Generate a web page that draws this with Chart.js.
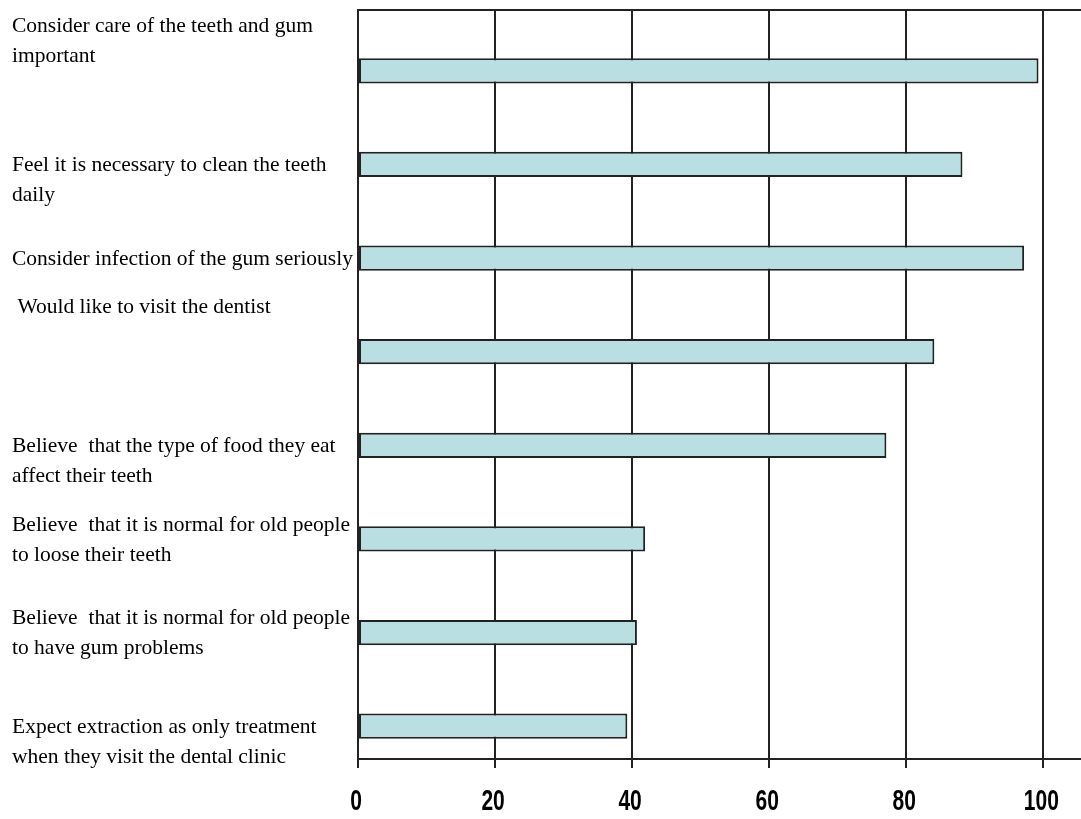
<!DOCTYPE html>
<html>
<head>
<meta charset="utf-8">
<script src="https://cdn.jsdelivr.net/npm/chart.js@4.4.1/dist/chart.umd.min.js"></script>
<style>
  html, body { margin: 0; padding: 0; background: #fff; }
  canvas { display: block; }
</style>
</head>
<body>
<canvas id="myChart" width="1081" height="819"></canvas>
<script>
var categories = [
  ["Consider care of the teeth and gum", "important"],
  ["Feel it is necessary to clean the teeth", "daily"],
  ["Consider infection of the gum seriously"],
  [" Would like to visit the dentist"],
  ["Believe  that the type of food they eat", "affect their teeth"],
  ["Believe  that it is normal for old people", "to loose their teeth"],
  ["Believe  that it is normal for old people", "to have gum problems"],
  ["Expect extraction as only treatment", "when they visit the dental clinic"]
];
var percentValues = [99.3, 88.2, 97.2, 84.1, 77.1, 41.9, 40.7, 39.3];
var xTicks = [0, 20, 40, 60, 80, 100];

// labels in the picture sit a bit above or below their bar, counted in lines
var labelShift = [-1, 2, 1, -2, 2, 1, 1, 2];

function padLabel(lines, shift) {
  var out = lines.slice();
  for (var i = 0; i < Math.abs(shift); i++) {
    if (shift > 0) out.unshift(""); else out.push("");
  }
  return out;
}

// x tick labels are tall narrow bold digits, so draw them squeezed
var narrowTicks = {
  id: "narrowTicks",
  afterDraw: function (chart) {
    var ctx = chart.ctx;
    var xs = chart.scales.x;
    ctx.save();
    ctx.fillStyle = "#000";
    ctx.font = "bold 30px 'Liberation Sans', Arial, sans-serif";
    ctx.textAlign = "center";
    ctx.textBaseline = "middle";
    xs.ticks.forEach(function (t) {
      var px = xs.getPixelForValue(t.value);
      ctx.save();
      ctx.translate(px - 2, 802);
      ctx.scale(0.7, 1);
      ctx.fillText(String(t.value), 0, 0);
      ctx.restore();
    });
    ctx.restore();
  }
};

new Chart("myChart", {
  type: "bar",
  data: {
    labels: categories.map(function (c, i) { return padLabel(c, labelShift[i]); }),
    datasets: [
      { data: categories.map(function () { return null; }), backgroundColor: "rgba(0,0,0,0)" },
      {
        data: percentValues,
        backgroundColor: "#B9DFE2",
        borderColor: "#222",
        borderWidth: 2,
        borderSkipped: false
      }
    ]
  },
  options: {
    indexAxis: "y",
    responsive: false,
    animation: false,
    devicePixelRatio: 1,
    categoryPercentage: 0.6,
    barPercentage: 0.9,
    layout: { padding: { left: 12, top: 10, right: 0, bottom: 0 } },
    plugins: { legend: { display: false }, tooltip: { enabled: false } },
    scales: {
      y: {
        grid: { display: false },
        border: { display: true, color: "#222", width: 2 },
        ticks: {
          autoSkip: false,
          crossAlign: "far",
          color: "#000",
          font: { family: "'Liberation Serif', 'Times New Roman', serif", size: 21.5, lineHeight: 1.4 }
        },
        afterFit: function (scale) {
          scale.width = 346;
          scale.paddingTop = 0;
          scale.paddingBottom = 0;
        }
      },
      x: {
        min: 0,
        max: 105.5,
        grid: { color: "#222", lineWidth: 2, tickLength: 9, tickColor: "#222" },
        border: { display: true, color: "#222", width: 2 },
        afterBuildTicks: function (scale) {
          scale.ticks = xTicks.map(function (v) { return { value: v }; });
        },
        ticks: { display: false },
        afterFit: function (scale) {
          scale.height = 60;
          scale.paddingLeft = 0;
          scale.paddingRight = 0;
        }
      },
      x2: {
        position: "top",
        min: 0,
        max: 105.5,
        grid: { display: false },
        border: { display: true, color: "#222", width: 2 },
        ticks: { display: false },
        afterFit: function (scale) { scale.height = 0; }
      }
    }
  },
  plugins: [narrowTicks]
});
</script>
</body>
</html>
